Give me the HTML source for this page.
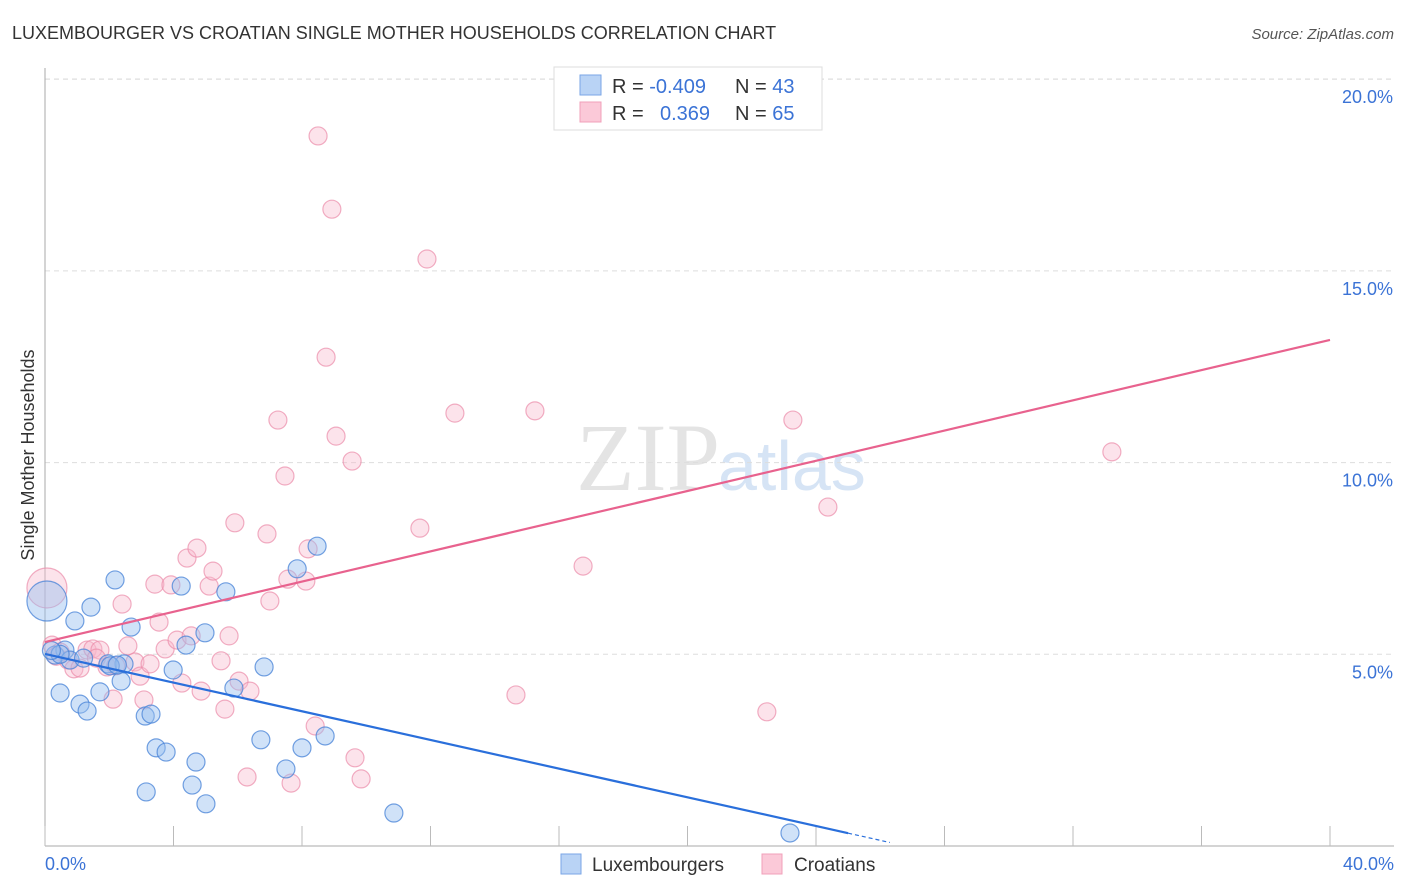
<!DOCTYPE html>
<html><head><meta charset="utf-8"><style>
body{margin:0;background:#fff;font-family:"Liberation Sans",sans-serif;}
svg{display:block}
</style></head><body>
<svg id="chart" width="1406" height="892" xmlns="http://www.w3.org/2000/svg">
<text x="12" y="39" font-size="18" fill="#333">LUXEMBOURGER VS CROATIAN SINGLE MOTHER HOUSEHOLDS CORRELATION CHART</text>
<text x="1394" y="39" font-size="15" fill="#555" font-style="italic" text-anchor="end">Source: ZipAtlas.com</text>
<text x="720" y="490" font-size="96" font-family="Liberation Serif" fill="#e4e4e4" text-anchor="end">ZIP</text>
<text x="718" y="490" font-size="70" fill="#d6e4f5">atlas</text>
<g id="grid"></g>
<g id="axes"></g>
<g id="pts"></g>
<g id="lines"></g>
<text transform="translate(34,455) rotate(-90)" font-size="18" fill="#333" text-anchor="middle">Single Mother Households</text>
<text x="45" y="870" font-size="18" fill="#3b73d6">0.0%</text>
<text x="1394" y="870" font-size="18" fill="#3b73d6" text-anchor="end">40.0%</text>
<g>
<rect x="554" y="67" width="268" height="63" fill="#fff" stroke="#ddd"/>
<rect x="580" y="75" width="21" height="20" fill="#b9d3f5" stroke="#7aa6e6"/>
<rect x="580" y="102" width="21" height="20" fill="#fbc9d8" stroke="#f0a0ba"/>
<text x="612" y="93" font-size="20" fill="#333">R = <tspan fill="#3b73d6">-0.409</tspan></text>
<text x="735" y="93" font-size="20" fill="#333">N = <tspan fill="#3b73d6">43</tspan></text>
<text x="612" y="120" font-size="20" fill="#333">R = <tspan fill="#3b73d6" x="660">0.369</tspan></text>
<text x="735" y="120" font-size="20" fill="#333">N = <tspan fill="#3b73d6">65</tspan></text>
</g>
<g>
<rect x="561" y="854" width="20" height="20" fill="#b9d3f5" stroke="#7aa6e6"/>
<text x="592" y="871" font-size="19" fill="#333">Luxembourgers</text>
<rect x="762" y="854" width="20" height="20" fill="#fbc9d8" stroke="#f0a0ba"/>
<text x="794" y="871" font-size="19" fill="#333">Croatians</text>
</g>
</svg>
<script>
const yTicks=[5,10,15,20];
const yTickLabels=["5.0%","10.0%","15.0%","20.0%"];
const xTicks=[0,4,8,12,16,20,24,28,32,36,40];
const luxX=[0.06,0.31,0.47,0.62,0.78,0.93,1.09,1.31,1.43,1.71,1.96,2.18,2.37,2.46,2.68,3.15,3.12,3.30,3.46,3.77,3.99,4.24,4.39,4.58,4.70,4.98,5.01,5.63,5.88,6.72,6.82,7.50,7.85,8.00,8.47,8.72,10.86,23.19,0.47,2.03,2.25,0.2,1.2];
const luxY=[6.39,4.98,3.99,5.11,4.85,5.87,3.70,3.52,6.23,4.02,4.75,6.94,4.30,4.75,5.71,1.41,3.39,3.44,2.56,2.45,4.59,6.78,5.24,1.59,2.19,5.56,1.10,6.63,4.12,2.77,4.67,2.01,7.23,2.56,7.82,2.87,0.86,0.34,5.0,4.7,4.72,5.1,4.9];
const croX=[0.06,0.22,0.47,0.72,0.90,1.09,1.31,1.49,1.71,1.93,2.12,2.40,2.58,2.80,2.96,3.08,3.27,3.42,3.55,3.74,3.92,4.11,4.26,4.42,4.55,4.73,4.86,5.11,5.23,5.48,5.60,5.73,5.91,6.04,6.29,6.38,6.91,7.00,7.25,7.47,7.56,7.66,8.12,8.19,8.41,8.50,8.75,8.93,9.06,9.56,9.65,9.84,11.67,11.89,12.76,14.66,15.25,16.75,22.47,23.28,24.37,33.21,1.6,2.2,0.35];
const croY=[6.73,5.24,5.06,4.85,4.62,4.64,5.11,5.14,5.11,4.67,3.83,6.31,5.22,4.80,4.43,3.81,4.75,6.83,5.84,5.14,6.81,5.37,4.25,7.51,5.48,7.77,4.04,6.78,7.17,4.83,3.57,5.48,8.43,4.30,1.80,4.04,8.14,6.39,11.11,9.65,6.96,1.64,6.91,7.75,3.13,18.52,12.75,16.61,10.69,10.04,2.30,1.75,8.29,15.31,11.29,3.94,11.35,7.30,3.50,11.11,8.84,10.28,4.9,4.7,4.95];
const luxFit=[5.01,-0.187];
const croFit=[5.32,0.197];
const xs=v=>45+v*(1285/40);
const ys=v=>846-v*(191.7/5);
const NS="http://www.w3.org/2000/svg";
function mk(tag,attrs,parent){const e=document.createElementNS(NS,tag);for(const k in attrs)e.setAttribute(k,attrs[k]);parent.appendChild(e);return e;}
const grid=document.getElementById('grid'),axes=document.getElementById('axes'),pts=document.getElementById('pts'),lines=document.getElementById('lines');
yTicks.forEach((t,i)=>{
 const l=mk('line',{x1:45,x2:1394,y1:ys(t),y2:ys(t),stroke:'#ddd','stroke-dasharray':'5,4'},grid);
 
 
 const tx=mk('text',{x:1393,y:ys(t)+24,'font-size':18,fill:'#3b73d6','text-anchor':'end'},grid);
 tx.textContent=yTickLabels[i];
 
 
});
const tl=mk('line',{x1:45,x2:1394,y1:79,y2:79,stroke:'#ddd','stroke-dasharray':'5,4'},grid);


const ya=mk('line',{x1:45,x2:45,y1:68,y2:846,stroke:'#aaa'},axes);


const xa=mk('line',{x1:45,x2:1394,y1:846,y2:846,stroke:'#aaa'},axes);


xTicks.forEach(t=>{
 const l=mk('line',{x1:xs(t),x2:xs(t),y1:826,y2:846,stroke:'#bbb'},axes);
 
 
});
function dots(X,Y,fill,stroke,name){
 X.forEach((x,i)=>{
  const big=(i===0);
  const c=mk('circle',{cx:xs(x),cy:ys(Y[i]),r:big?20:9,fill:fill,stroke:stroke,'stroke-width':1.2},pts);
  
  
 });
}
dots(croX,croY,'rgba(248,185,205,0.4)','rgba(235,140,170,0.7)','croatian-point');
dots(luxX,luxY,'rgba(150,190,240,0.45)','rgba(70,130,215,0.75)','luxembourger-point');
const cl=mk('line',{x1:xs(0),y1:ys(croFit[0]),x2:xs(40),y2:ys(croFit[0]+croFit[1]*40),stroke:'#e8628e','stroke-width':2.2},lines);


const bl=mk('line',{x1:xs(0),y1:ys(luxFit[0]),x2:xs(25),y2:ys(luxFit[0]+luxFit[1]*25),stroke:'#2a6fdb','stroke-width':2.2},lines);


const bd=mk('line',{x1:xs(25),y1:ys(luxFit[0]+luxFit[1]*25),x2:xs(26.3),y2:ys(luxFit[0]+luxFit[1]*26.3),stroke:'#2a6fdb','stroke-width':1.2,'stroke-dasharray':'4,3'},lines);


</script>
</body></html>
